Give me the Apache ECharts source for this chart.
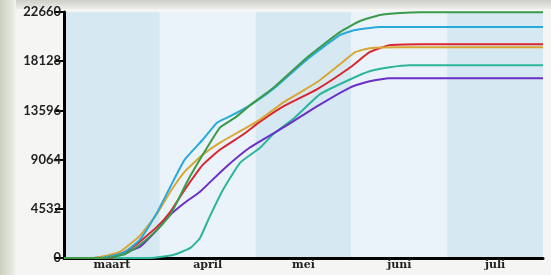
<!DOCTYPE html>
<html><head><meta charset="utf-8">
<script src="https://cdn.jsdelivr.net/npm/echarts@6/dist/echarts.min.js"></script>
<style>
html,body{margin:0;padding:0;width:551px;height:275px;overflow:hidden;background:#f5f5f3;}
#bg1{position:absolute;left:0;top:0;width:551px;height:9px;background:linear-gradient(#cfcfc8,#ecece8);}
#bg2{position:absolute;left:0;top:0;width:16px;height:275px;background:linear-gradient(90deg,#c9cfbd,#e4e6dc 70%,#f2f2ef);}
#c{position:absolute;left:0;top:0;width:551px;height:275px;}
</style></head><body>
<div id="bg1"></div><div id="bg2"></div>
<div id="c"></div>
<script>
const months = ['maart','april','mei','juni','juli'];
const yTicks = [0,4532,9064,13596,18128,22660];
// x in months since 1 March (0..5), y = cumulative value
const green = [[0,0],[0.43,0],[0.64,370],[0.79,1202],[0.95,2405],[1.11,3977],[1.28,6937],[1.45,9526],[1.63,12024],[1.79,12949],[1.94,14058],[2.18,15631],[2.54,18498],[2.88,20810],[3.09,21828],[3.30,22383],[3.51,22568],[3.72,22640],[5,22640]];
const cyan = [[0,0],[0.38,0],[0.50,185],[0.62,463],[0.79,1665],[0.97,4162],[1.11,6567],[1.26,9064],[1.45,10914],[1.60,12486],[1.73,13041],[1.94,14058],[2.18,15538],[2.54,18313],[2.88,20533],[3.04,20995],[3.30,21273],[3.72,21273],[5,21273]];
const red = [[0,0],[0.48,0],[0.72,1017],[0.97,2867],[1.11,4255],[1.26,6289],[1.45,8602],[1.63,9989],[1.87,11376],[2.05,12579],[2.29,13966],[2.64,15538],[2.99,17573],[3.19,18960],[3.40,19608],[3.72,19700],[5,19700]];
const orange = [[0,0],[0.27,0],[0.38,92],[0.58,555],[0.79,2035],[0.97,4070],[1.11,6104],[1.26,7954],[1.45,9526],[1.63,10636],[1.87,11839],[2.05,12764],[2.29,14336],[2.64,16186],[2.88,17851],[3.04,18960],[3.19,19330],[3.51,19423],[5,19423]];
const teal = [[0,0],[0.90,0],[1.14,277],[1.32,925],[1.42,1850],[1.52,3792],[1.66,6289],[1.84,8787],[2.05,10174],[2.18,11376],[2.41,12949],[2.67,15076],[2.99,16463],[3.19,17203],[3.40,17573],[3.61,17758],[5,17758]];
const purple = [[0,0],[0.32,0],[0.58,370],[0.79,1017],[0.97,2590],[1.11,3977],[1.26,5087],[1.42,6104],[1.66,8139],[1.94,10174],[2.29,12024],[2.64,13966],[2.99,15723],[3.19,16278],[3.40,16556],[3.72,16556],[5,16556]];

const seriesDefs = [
  {name:'teal', data:teal, color:'#2db59a'},
  {name:'purple', data:purple, color:'#6a2fc9'},
  {name:'red', data:red, color:'#d9262f'},
  {name:'orange', data:orange, color:'#d8a632'},
  {name:'cyan', data:cyan, color:'#2aa9db'},
  {name:'green', data:green, color:'#3b9b4a'}
];

const chart = echarts.init(document.getElementById('c'), null, {renderer:'canvas'});
chart.setOption({
  backgroundColor:'transparent',
  animation:false,
  grid:{left:64,right:8,top:12,bottom:17,containLabel:false},
  xAxis:[{
    type:'category', data:months, boundaryGap:true,
    axisLine:{show:true,lineStyle:{color:'#000',width:3}},
    axisTick:{show:false},
    axisLabel:{fontFamily:'DejaVu Serif',fontWeight:'bold',fontSize:11,color:'#222',margin:2},
    splitLine:{show:false},
    splitArea:{show:true,areaStyle:{color:['#d6e8f1','#eaf3fa']}}
  },{
    type:'value', min:0, max:5, show:false
  }],
  yAxis:{
    type:'value', min:0, max:22660, interval:4532,
    axisLine:{show:true,lineStyle:{color:'#000',width:3}},
    axisTick:{show:true,length:9,lineStyle:{color:'#000',width:2}},
    axisLabel:{fontFamily:'Lato',fontWeight:'bold',fontSize:13,color:'#222',margin:3,
      formatter:v=>String(v)},
    splitLine:{show:false}
  },
  series: seriesDefs.map(s=>({
    type:'line', name:s.name, xAxisIndex:1, data:s.data,
    showSymbol:false, smooth:0.15,
    lineStyle:{color:s.color,width:2}, itemStyle:{color:s.color}
  }))
});
</script>
</body></html>
